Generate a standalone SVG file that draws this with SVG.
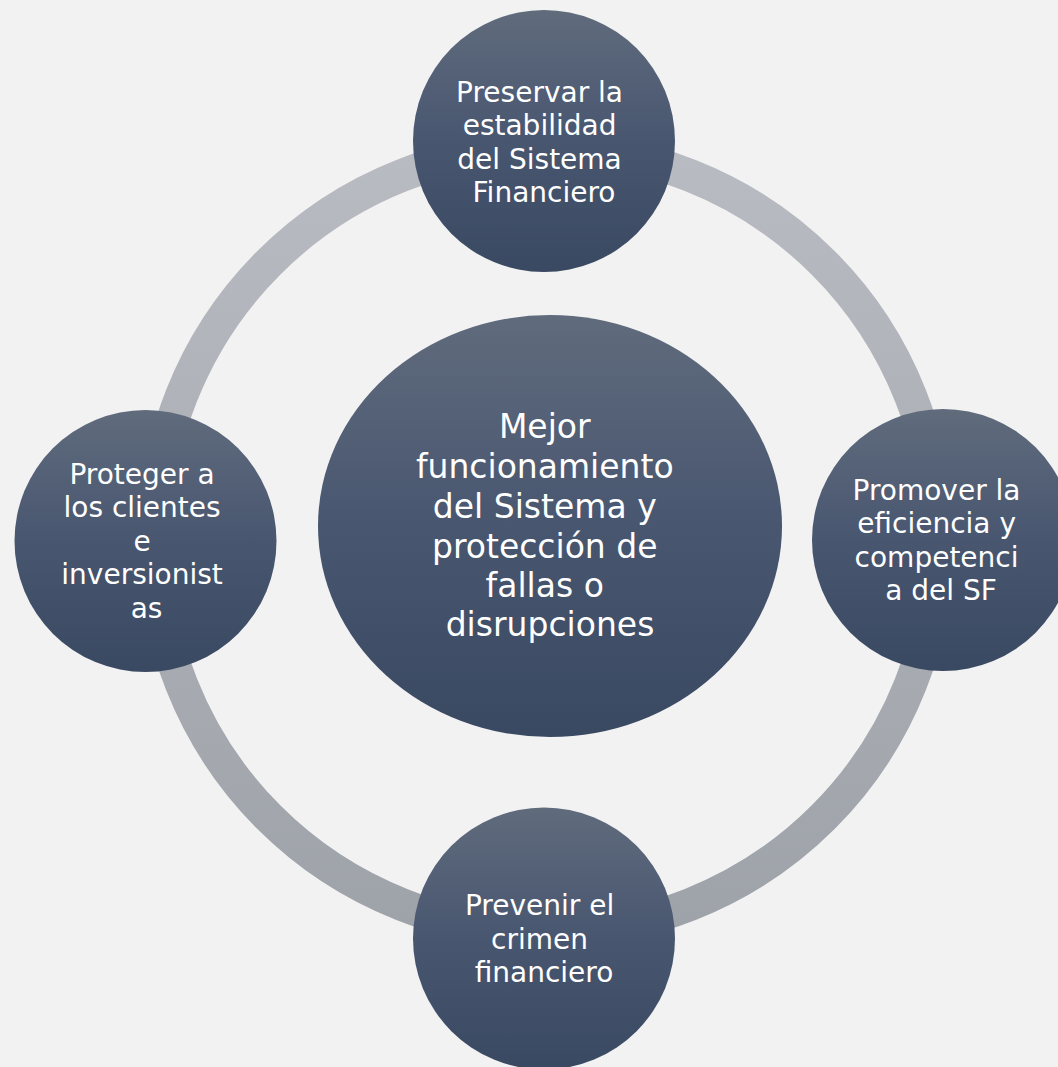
<svg xmlns="http://www.w3.org/2000/svg" width="1058" height="1067" viewBox="0 0 1058 1067">
  <defs>
    <linearGradient id="nodeFill" x1="0" y1="0" x2="0" y2="1">
      <stop offset="0" stop-color="#606b7c"/>
      <stop offset="0.5" stop-color="#485670"/>
      <stop offset="1" stop-color="#3a4962"/>
    </linearGradient>
    <linearGradient id="ringFill" gradientUnits="userSpaceOnUse" x1="0" y1="148" x2="0" y2="932">
      <stop offset="0" stop-color="#b8bbc1"/>
      <stop offset="1" stop-color="#9ea2a9"/>
    </linearGradient>
  </defs>
  <style>
    .node { fill: url(#nodeFill); }
    .label { fill: #ffffff; font-family: "DejaVu Sans", "Liberation Sans", sans-serif; text-anchor: middle; }
    .small { font-size: 28px; }
    .big { font-size: 33px; }
  </style>

  <rect width="1058" height="1067" fill="#f2f2f2"/>

  <!-- cycle ring linking the four outer goals -->
  <g id="connectors">
    <circle cx="546" cy="540" r="392" fill="none" stroke="url(#ringFill)" stroke-width="33"/>
  </g>

  <!-- central goal -->
  <g id="node-center">
    <ellipse class="node" cx="550" cy="526" rx="232" ry="211"/>
    <text class="label big">
      <tspan x="550" y="438">Mejor</tspan>
      <tspan x="550" y="478">funcionamiento</tspan>
      <tspan x="550" y="518">del Sistema y</tspan>
      <tspan x="550" y="558">protección de</tspan>
      <tspan x="550" y="597">fallas o</tspan>
      <tspan x="550" y="636">disrupciones</tspan>
    </text>
  </g>

  <g id="node-top">
    <circle class="node" cx="544" cy="141" r="131"/>
    <text class="label small">
      <tspan x="544" y="101.5">Preservar la</tspan>
      <tspan x="544" y="135">estabilidad</tspan>
      <tspan x="544" y="168.5">del Sistema</tspan>
      <tspan x="544" y="202">Financiero</tspan>
    </text>
  </g>

  <g id="node-right">
    <circle class="node" cx="943" cy="540" r="131"/>
    <text class="label small">
      <tspan x="941" y="499.5">Promover la</tspan>
      <tspan x="941" y="533">eficiencia y</tspan>
      <tspan x="941" y="566.5">competenci</tspan>
      <tspan x="941" y="600">a del SF</tspan>
    </text>
  </g>

  <g id="node-bottom">
    <circle class="node" cx="544" cy="938.5" r="131"/>
    <text class="label small">
      <tspan x="544" y="915">Prevenir el</tspan>
      <tspan x="544" y="948.5">crimen</tspan>
      <tspan x="544" y="982">financiero</tspan>
    </text>
  </g>

  <g id="node-left">
    <circle class="node" cx="145.5" cy="541" r="131"/>
    <text class="label small">
      <tspan x="146.5" y="483.5">Proteger a</tspan>
      <tspan x="146.5" y="517">los clientes</tspan>
      <tspan x="146.5" y="550.5">e</tspan>
      <tspan x="146.5" y="584">inversionist</tspan>
      <tspan x="146.5" y="617.5">as</tspan>
    </text>
  </g>
</svg>
